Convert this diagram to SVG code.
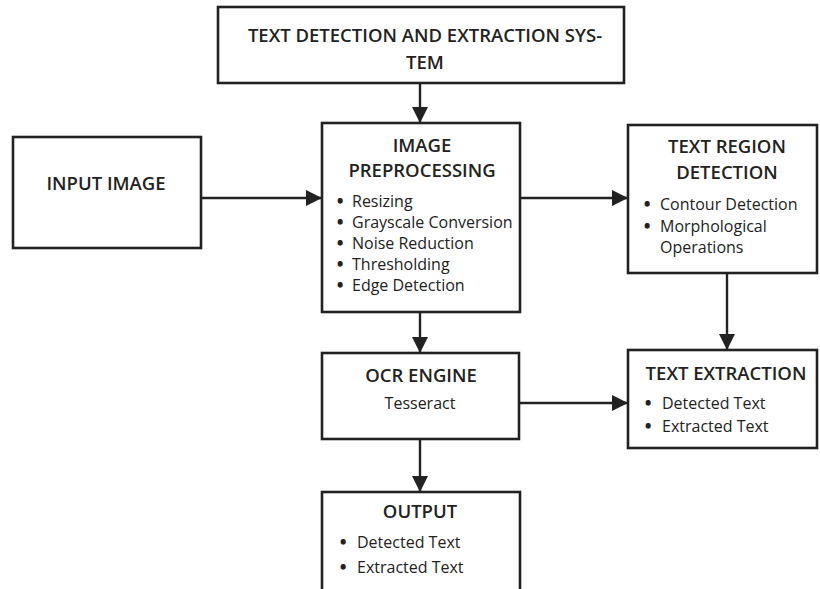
<svg xmlns="http://www.w3.org/2000/svg" width="820" height="589" viewBox="0 0 820 589">
<style>
.box{fill:#fff;stroke:#222;stroke-width:2.6}
.h{font-family:"Open Sans","Noto Sans",sans-serif;font-weight:600;font-size:18.5px;fill:#222;text-anchor:middle}
.t{font-family:"Open Sans","Noto Sans",sans-serif;font-weight:400;font-size:16px;fill:#222}
.b{font-weight:800}
.c{text-anchor:middle}
.con{stroke:#222;stroke-width:2.4;fill:none;marker-end:url(#ah)}
</style>
<defs>
<marker id="ah" markerUnits="userSpaceOnUse" markerWidth="16" markerHeight="16" viewBox="0 0 16 16" refX="16" refY="8" orient="auto">
<path d="M0,0 L16,8 L0,16 Z" fill="#222"/>
</marker>
</defs>
<rect width="820" height="589" fill="#fff"/>
<g id="connectors">
<line class="con" x1="420" y1="83" x2="420" y2="123"/>
<line class="con" x1="201" y1="198" x2="322" y2="198"/>
<line class="con" x1="520" y1="198" x2="628" y2="198"/>
<line class="con" x1="420" y1="312" x2="420" y2="353"/>
<line class="con" x1="727" y1="273" x2="727" y2="350"/>
<line class="con" x1="519" y1="403" x2="628" y2="403"/>
<line class="con" x1="420" y1="439" x2="420" y2="492"/>
</g>
<g id="title">
<rect class="box" x="218" y="7" width="406" height="76"/>
<text class="h" x="425" y="42" font-size="20.3px">TEXT DETECTION AND EXTRACTION SYS-</text>
<text class="h" x="425" y="69" font-size="20.3px">TEM</text>
</g>
<g id="input">
<rect class="box" x="13" y="137" width="188" height="111"/>
<text class="h" x="106" y="190">INPUT IMAGE</text>
</g>
<g id="preprocessing">
<rect class="box" x="322" y="123" width="198" height="189"/>
<text class="h" x="422" y="152" font-size="19px">IMAGE</text>
<text class="h" x="422" y="177" font-size="19px">PREPROCESSING</text>
<text class="t" y="207"><tspan class="b" x="337">•</tspan><tspan x="352">Resizing</tspan></text>
<text class="t" y="228"><tspan class="b" x="337">•</tspan><tspan x="352">Grayscale Conversion</tspan></text>
<text class="t" y="249"><tspan class="b" x="337">•</tspan><tspan x="352">Noise Reduction</tspan></text>
<text class="t" y="270"><tspan class="b" x="337">•</tspan><tspan x="352">Thresholding</tspan></text>
<text class="t" y="291"><tspan class="b" x="337">•</tspan><tspan x="352">Edge Detection</tspan></text>
</g>
<g id="region">
<rect class="box" x="628" y="125" width="189" height="148"/>
<text class="h" x="727" y="153">TEXT REGION</text>
<text class="h" x="727" y="179">DETECTION</text>
<text class="t" y="210" font-size="16.6px"><tspan class="b" x="644">•</tspan><tspan x="660">Contour Detection</tspan></text>
<text class="t" y="232" font-size="16.6px"><tspan class="b" x="644">•</tspan><tspan x="660">Morphological</tspan></text>
<text class="t" x="660" y="253" font-size="16.6px">Operations</text>
</g>
<g id="ocr">
<rect class="box" x="322" y="353" width="197" height="86"/>
<text class="h" x="421" y="382">OCR ENGINE</text>
<text class="t c" x="420" y="409" font-size="17px">Tesseract</text>
</g>
<g id="extraction">
<rect class="box" x="628" y="350" width="189" height="98"/>
<text class="h" x="726" y="380">TEXT EXTRACTION</text>
<text class="t" y="409"><tspan class="b" x="645">•</tspan><tspan x="662">Detected Text</tspan></text>
<text class="t" y="432"><tspan class="b" x="645">•</tspan><tspan x="662">Extracted Text</tspan></text>
</g>
<g id="output">
<rect class="box" x="322" y="492" width="198" height="110"/>
<text class="h" x="420" y="518">OUTPUT</text>
<text class="t" y="548" font-size="16.6px"><tspan class="b" x="340">•</tspan><tspan x="357">Detected Text</tspan></text>
<text class="t" y="573" font-size="16.6px"><tspan class="b" x="340">•</tspan><tspan x="357">Extracted Text</tspan></text>
</g>
</svg>
